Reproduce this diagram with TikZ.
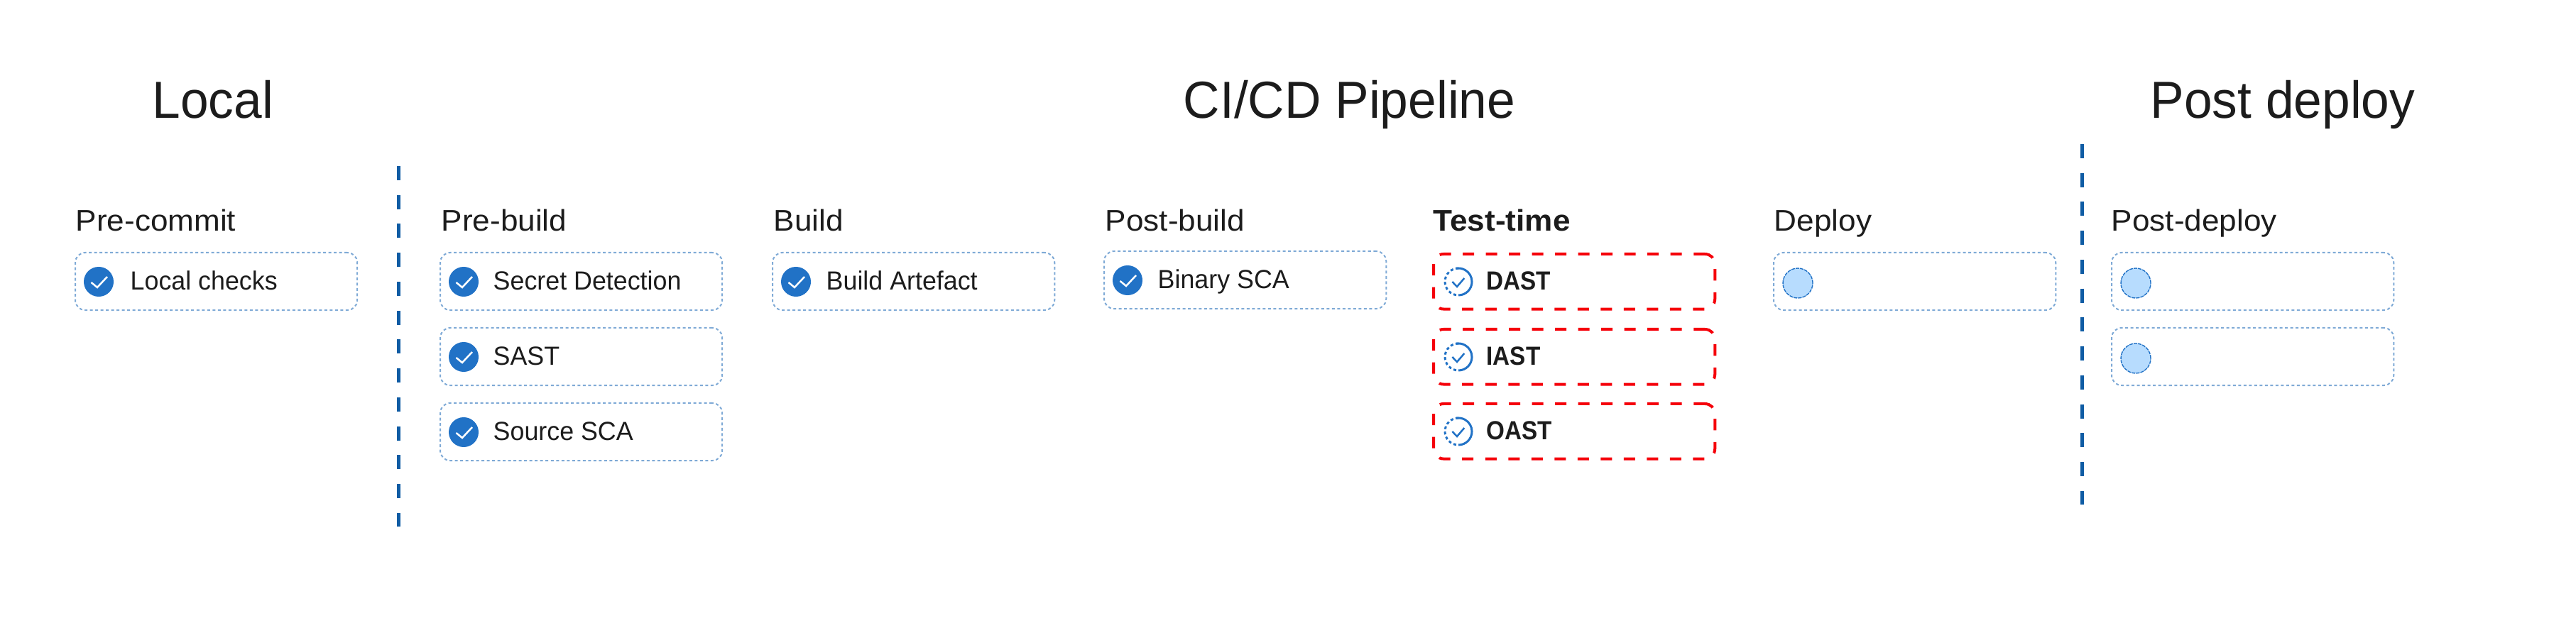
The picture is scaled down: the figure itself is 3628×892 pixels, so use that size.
\documentclass[tikz,border=0pt]{standalone}
\usepackage{fontspec}
\setmainfont[FakeStretch=0.97]{Liberation Sans}
\newfontfamily\phasefont[FakeStretch=1.05]{Liberation Sans}
\newfontfamily\tagfont[FakeStretch=0.90]{Liberation Sans}
\definecolor{inkblack}{HTML}{1C1C1C}
\definecolor{okblue}{HTML}{2172C6}
\definecolor{boxblue}{HTML}{7FAAD6}
\definecolor{barblue}{HTML}{0F5CA4}
\definecolor{palefill}{HTML}{B7DCFE}
\definecolor{alertred}{HTML}{F5000A}
\tikzset{
  stagetitle/.style={anchor=base west,inner sep=0pt,text=inkblack,font=\fontsize{20.9pt}{24pt}\selectfont},
  phasetitle/.style={anchor=base west,inner sep=0pt,text=inkblack,font=\phasefont\fontsize{11.95pt}{14pt}\selectfont},
  itemtext/.style={anchor=base west,inner sep=0pt,text=inkblack,font=\fontsize{10.5pt}{13pt}\selectfont},
  taskbox/.style={anchor=north west,draw=boxblue,line width=0.02cm,rounded corners=0.14cm,
    dash pattern=on 0.04cm off 0.035cm,minimum width=3.97cm,minimum height=0.81cm,inner sep=0pt,outer sep=0pt},
  alertbox/.style={anchor=north west,draw=alertred,line width=0.04cm,rounded corners=0.14cm,
    dash pattern=on 0.16cm off 0.165cm,minimum width=3.96cm,minimum height=0.775cm,inner sep=0pt,outer sep=0pt},
  okdot/.style={circle,fill=okblue,minimum size=0.42cm,inner sep=0pt,outer sep=0pt},
  todot/.style={circle,fill=palefill,draw=okblue,line width=0.014cm,dash pattern=on 0.05cm off 0.012cm,
    minimum size=0.42cm,inner sep=0pt,outer sep=0pt},
  ringdot/.style={circle,minimum size=0.38cm,inner sep=0pt,outer sep=0pt},
  divider/.style={draw=barblue,line width=0.05cm,dash pattern=on 0.2cm off 0.207cm},
}
\begin{document}
\begin{tikzpicture}[x=0.01cm,y=-0.01cm]
  \useasboundingbox (0,0) rectangle (3628,892);
  % big headings
  \node[stagetitle] (local) at (214,167) {Local};
  \node[stagetitle] (cicd) at (1666,167) {CI/CD Pipeline};
  \node[stagetitle] (postdep) at (3028,167) {Post deploy};
  % column headings
  \foreach \name/\x/\txt in {commit/106/Pre-commit,prebuild/621/Pre-build,build/1089/Build,
      postbuild/1556/Post-build,deploy/2498/Deploy,after/2973/Post-deploy} {
    \node[phasetitle] (\name) at (\x,326) {\txt};
  }
  \node[phasetitle,font=\phasefont\fontsize{11.95pt}{14pt}\selectfont\bfseries] (testtime) at (2018,326) {Test-time};
  % separators
  \coordinate (sepatop) at (561,234);
  \coordinate (sepabot) at (561,742);
  \coordinate (sepbtop) at (2932,203);
  \coordinate (sepbbot) at (2932,711);
  \draw[divider] (sepatop) -- (sepabot);
  \draw[divider] (sepbtop) -- (sepbbot);
  % finished items
  \foreach \name/\x/\y/\dx/\txt in {checks/106/356/77/Local checks,secret/620/356/74/Secret Detection,
      sast/620/462/74/SAST,source/620/568/74/Source SCA,artefact/1088/356/75/Build Artefact,binary/1555/354/75/Binary SCA} {
    \node[taskbox] (box\name) at (\x,\y) {};
    \node[okdot] (dot\name) at (\x+33,\y+41) {};
    \draw[white,line width=0.025cm] (\x+22.5,\y+42) -- (\x+31,\y+49) -- (\x+45,\y+34);
    \node[itemtext] (lab\name) at (\x+\dx,\y+53) {\txt};
  }
  % test-time items
  \foreach \name/\y/\txt in {dast/358/DAST,iast/464/IAST,oast/569/OAST} {
    \node[alertbox] (box\name) at (2019,\y) {};
    \node[ringdot] (dot\name) at (2054,\y+39) {};
    \draw[okblue,line width=0.03cm] (dot\name.south) arc[start angle=-90,end angle=100,radius=0.19cm];
    \draw[okblue,line width=0.03cm,dash pattern=on 0.04cm off 0.035cm] (dot\name.north) arc[start angle=90,end angle=270,radius=0.19cm];
    \draw[okblue,line width=0.025cm] (2045.3,\y+39) -- (2052,\y+46) -- (2062.3,\y+34);
    \node[itemtext,font=\tagfont\fontsize{10.5pt}{13pt}\selectfont\bfseries] (lab\name) at (2093,\y+51) {\txt};
  }
  % open items
  \foreach \name/\x/\y in {deploy/2498/356,afterone/2974/356,aftertwo/2974/462} {
    \node[taskbox] (box\name) at (\x,\y) {};
    \node[todot] (dot\name) at (\x+34,\y+43) {};
  }
\end{tikzpicture}
\end{document}
